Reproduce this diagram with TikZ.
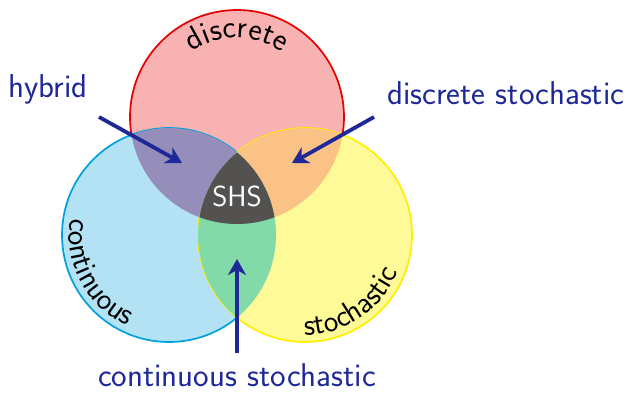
\documentclass[tikz,border=0pt]{standalone}
\usepackage{fontspec}
\usetikzlibrary{arrows.meta,decorations.text}

% set colours
\definecolor{discfill}{RGB}{248,178,178}
\definecolor{discline}{RGB}{232,0,0}
\definecolor{contfill}{RGB}{178,226,244}
\definecolor{contline}{RGB}{0,160,222}
\definecolor{stochfill}{RGB}{255,250,152}
\definecolor{stochline}{RGB}{255,238,0}
\definecolor{hybfill}{RGB}{150,142,186}
\definecolor{dsfill}{RGB}{251,194,133}
\definecolor{csfill}{RGB}{130,218,168}
\definecolor{shsfill}{RGB}{83,82,80}
\definecolor{navy}{RGB}{30,40,150}

\begin{document}
\begin{tikzpicture}[x=1pt,y=1pt,
  border/.style={line width=1.7pt},
  tag/.style={text=navy, inner sep=0pt, font=\fontsize{33}{33}\selectfont\sffamily},
  pointer/.style={draw=navy, line width=3.8pt, -{Stealth[length=16pt,width=18pt,inset=5pt]}},
  arclabel/.style 2 args={decorate, decoration={text along path, text align=center,
    text={|\fontsize{#1}{#1}\selectfont\sffamily|#2}}}
]
\useasboundingbox (0,0) rectangle (628,392);
\def\R{107}

% circle centres
\coordinate (cd) at (237,275);
\coordinate (cc) at (169,157);
\coordinate (cs) at (305,157);

% the three sets, each filled and outlined in turn
\fill[discfill] (cd) circle[radius=\R];
\draw[border, discline] (cd) circle[radius=\R];
\fill[contfill] (cc) circle[radius=\R];
\draw[border, contline] (cc) circle[radius=\R];
\fill[stochfill] (cs) circle[radius=\R];
\draw[border, stochline] (cs) circle[radius=\R];

% pairwise overlaps
\begin{scope}
  \clip (cd) circle[radius=\R];
  \fill[hybfill] (cc) circle[radius=\R];
\end{scope}
\begin{scope}
  \clip (cd) circle[radius=\R];
  \fill[dsfill] (cs) circle[radius=\R];
\end{scope}
\begin{scope}
  \clip (cc) circle[radius=\R];
  \fill[csfill] (cs) circle[radius=\R];
\end{scope}
% triple overlap
\begin{scope}
  \clip (cd) circle[radius=\R];
  \clip (cc) circle[radius=\R];
  \fill[shsfill] (cs) circle[radius=\R];
\end{scope}

\node[text=white, inner sep=0pt, font=\fontsize{29}{29}\selectfont\sffamily] (shs) at (237,196) {SHS};

% curved set names
\path[arclabel={32}{discrete}] (cd) ++(130:79) arc[start angle=130, end angle=50, radius=79];
\path[arclabel={31}{continuous}] (cc) ++(170:100) arc[start angle=170, end angle=246, radius=100];
\path[arclabel={31}{stochastic}] (cs) ++(-91:100) arc[start angle=-91, end angle=-21, radius=100];

% outside labels
\node[tag, anchor=base west] (hyb) at (8,295) {hybrid};
\node[tag, anchor=base west] (ds) at (387,288) {discrete stochastic};
\node[tag, anchor=base] (cst) at (237,6) {continuous stochastic};

% pointer ends
\coordinate (hybtail) at (99,275);
\coordinate (hybtip) at (182,229);
\coordinate (dstail) at (374,275);
\coordinate (dstip) at (292,229);
\coordinate (csttail) at (237,39);
\coordinate (csttip) at (237,133);

\draw[pointer] (hybtail) -- (hybtip);
\draw[pointer] (dstail) -- (dstip);
\draw[pointer] (csttail) -- (csttip);
\end{tikzpicture}
\end{document}
